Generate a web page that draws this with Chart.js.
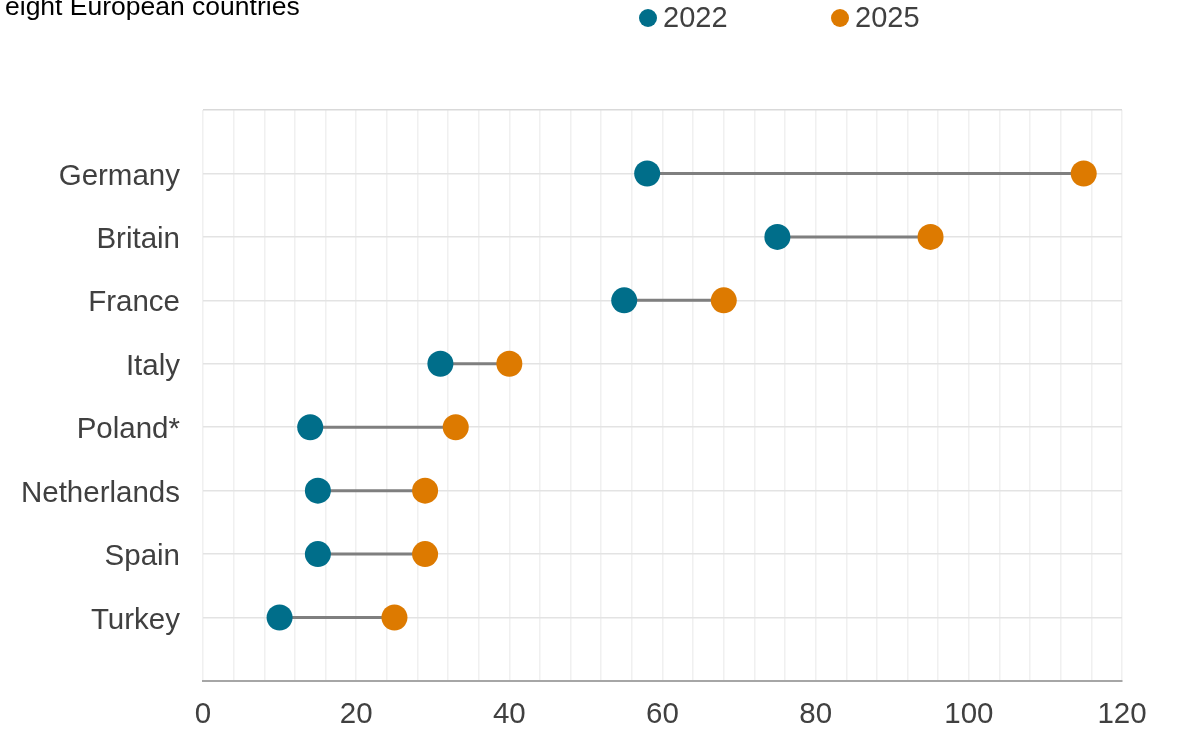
<!DOCTYPE html>
<html>
<head>
<meta charset="utf-8">
<script src="https://cdn.jsdelivr.net/npm/chart.js@4/dist/chart.umd.min.js"></script>
<style>
  html, body { margin: 0; padding: 0; background: #fff; overflow: hidden; }
  #wrap { position: relative; width: 1178px; height: 731px; font-family: "Liberation Sans", Arial, sans-serif; }
  #title { position: absolute; left: 5px; top: -7px; font-size: 26.5px; line-height: 26px; color: #000; white-space: nowrap; }
  .leg { position: absolute; top: 3px; font-size: 29px; line-height: 29px; color: #404040; }
  .dot { position: absolute; width: 18px; height: 18px; border-radius: 50%; top: 9px; }
  canvas { position: absolute; left: 0; top: 0; }
</style>
</head>
<body>
<div id="wrap">
  <canvas id="dumbbell" width="1178" height="731"></canvas>
  <div id="title">eight European countries</div>
  <div class="dot" style="left:639px;background:#006e8a"></div>
  <div class="leg" style="left:663px">2022</div>
  <div class="dot" style="left:831px;background:#dd7a00"></div>
  <div class="leg" style="left:855px">2025</div>
</div>
<script>
const countries = ['Germany', 'Britain', 'France', 'Italy', 'Poland*', 'Netherlands', 'Spain', 'Turkey'];
const values2022 = [58, 75, 55, 31, 14, 15, 15, 10];
const values2025 = [115, 95, 68, 40, 33, 29, 29, 25];
const xTicks = [0, 20, 40, 60, 80, 100, 120];

const teal = '#006e8a';
const orange = '#dd7a00';

// row position: first country on top
const rowY = i => countries.length - i;

const connectors = countries.map((c, i) => ({
    type: 'line',
    label: c,
    data: [{ x: values2022[i], y: rowY(i) }, { x: values2025[i], y: rowY(i) }],
    borderColor: '#7f7f7f',
    borderWidth: 3,
    pointRadius: 0,
    pointHoverRadius: 0,
    order: 3
}));

const ctx = document.getElementById('dumbbell').getContext('2d');
new Chart(ctx, {
    type: 'scatter',
    data: {
        datasets: [
            ...connectors,
            {
                label: '2022',
                data: values2022.map((v, i) => ({ x: v, y: rowY(i) })),
                backgroundColor: teal,
                borderWidth: 0,
                pointRadius: 13,
                pointHoverRadius: 13,
                order: 1
            },
            {
                label: '2025',
                data: values2025.map((v, i) => ({ x: v, y: rowY(i) })),
                backgroundColor: orange,
                borderWidth: 0,
                pointRadius: 13,
                pointHoverRadius: 13,
                order: 1
            }
        ]
    },
    options: {
        responsive: false,
        animation: false,
        layout: { padding: { top: 110, right: 56, left: 0, bottom: 0 } },
        plugins: {
            legend: { display: false },
            tooltip: { enabled: false }
        },
        scales: {
            x: {
                type: 'linear',
                min: 0,
                max: 120,
                grid: {
                    color: '#f0f0f0',
                    lineWidth: 1.5,
                    drawTicks: false
                },
                border: { color: '#a6a6a6', width: 2 },
                ticks: {
                    stepSize: 4,
                    autoSkip: false,
                    maxRotation: 0,
                    padding: 16,
                    color: '#404040',
                    font: { family: 'Liberation Sans', size: 29.5 },
                    callback: v => xTicks.includes(v) ? v : ''
                },
                afterFit: s => { s.height = 50; }
            },
            y: {
                type: 'linear',
                min: 0,
                max: countries.length + 1,
                grid: {
                    color: ctx => ctx.tick.value === countries.length + 1 ? '#d9d9d9' : '#e3e3e3',
                    lineWidth: 1.5,
                    drawTicks: false
                },
                border: { display: false },
                ticks: {
                    stepSize: 1,
                    autoSkip: false,
                    padding: 23,
                    color: '#404040',
                    // small line height + empty first line nudges labels ~3px down
                    font: { family: 'Liberation Sans', size: 29.5, lineHeight: 0.2 },
                    callback: v => (v >= 1 && v <= countries.length) ? ['', countries[countries.length - v]] : ''
                },
                afterFit: s => { s.width = 203; }
            }
        }
    }
});
</script>
</body>
</html>
